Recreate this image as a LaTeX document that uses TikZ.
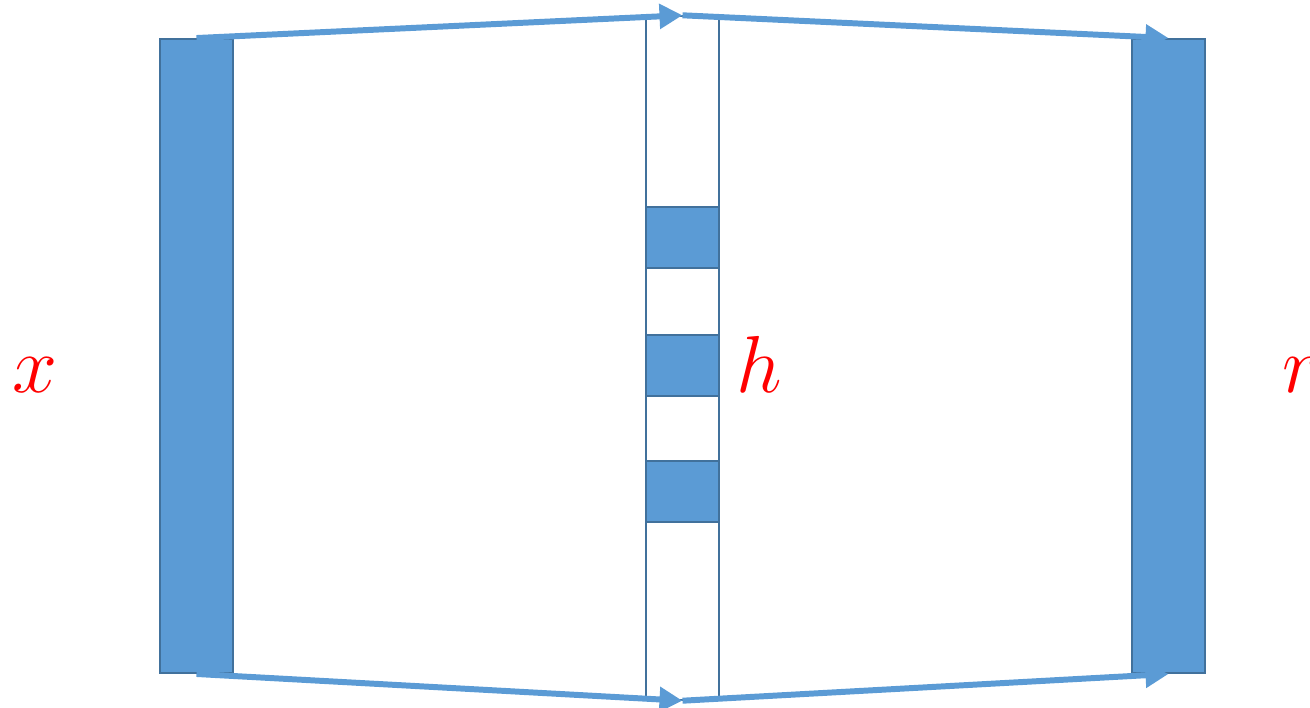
\RequirePackage{fix-cm}
\documentclass[tikz,border=0pt]{standalone}
\usetikzlibrary{arrows.meta, positioning}
\usepackage{xcolor}
\definecolor{myblue}{HTML}{5B9BD5}
\definecolor{myborder}{HTML}{41719C}
\colorlet{myred}{red}
\tikzset{
  layer bar/.style={draw=myborder, fill=myblue, line width=1.1pt, minimum width=14.6mm, minimum height=126.8mm, inner sep=0pt},
  code col/.style={draw=myborder, fill=white, line width=0.8pt, minimum width=14.6mm, minimum height=136.8mm, inner sep=0pt},
  code unit/.style={draw=myborder, fill=myblue, line width=0.8pt, minimum width=14.6mm, minimum height=12.2mm, inner sep=0pt},
  map arrow/.style={draw=myblue, line width=3.4pt, -{Triangle[length=4.6mm, width=4.8mm]}},
  var label/.style={text=myred, inner sep=0pt, anchor=base west, font=\fontsize{46}{50}\selectfont}
}
\begin{document}
\begin{tikzpicture}[x=0.2mm, y=-0.2mm]
  \useasboundingbox (0,0) rectangle (1310,708);

  % input / code / output layers
  \node[layer bar] (input) at (196.5,356) {};
  \node[code col] (code) at (682.5,358) {};
  \node[code unit] (unit1) at (682.5,237.5) {};
  \node[code unit] (unit2) at (682.5,365.5) {};
  \node[code unit] (unit3) at (682.5,491.5) {};
  \node[layer bar] (output) at (1168.5,356) {};

  % encoder and decoder mappings
  \draw[map arrow] (input.north) -- (code.north);
  \draw[map arrow] (code.north) -- (output.north);
  \draw[map arrow] (input.south) -- (code.south);
  \draw[map arrow] (code.south) -- (output.south);

  % labels
  \node[var label] (lx) at (12,392) {$x$};
  \node[var label] (lh) at (736,392) {$h$};
  \node[var label] (lr) at (1282,392) {$r$};
\end{tikzpicture}
\end{document}
